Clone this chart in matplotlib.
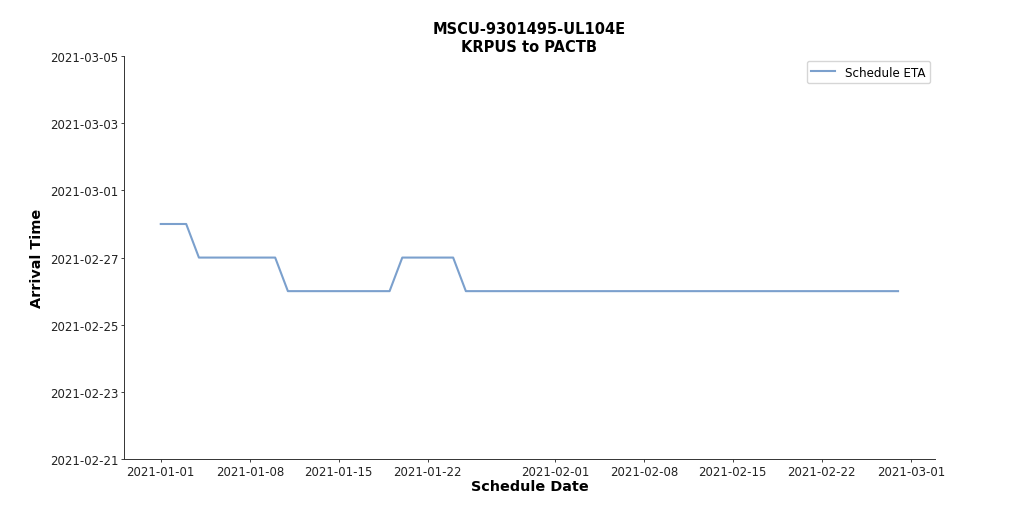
import pandas as pd
import matplotlib
matplotlib.use('Agg')
import matplotlib.dates as mdates
import matplotlib.pyplot as plt

# Schedule dates (one per day) and the ETA that was published that day
schedule_dates = pd.date_range('2021-01-01', '2021-02-28', freq='D')
schedule_eta = (['2021-02-28'] * 3 + ['2021-02-27'] * 7 + ['2021-02-26'] * 9 +
                ['2021-02-27'] * 5 + ['2021-02-26'] * 35)
y_ticks = ['2021-02-21', '2021-02-23', '2021-02-25', '2021-02-27',
           '2021-03-01', '2021-03-03', '2021-03-05']

df = pd.DataFrame({'Schedule_Date': schedule_dates,
                   'ETA': pd.to_datetime(schedule_eta)})

fig, ax = plt.subplots(figsize=(10.24, 5.1), dpi=100)
fig.subplots_adjust(left=0.121, right=0.913, bottom=0.098, top=0.888)

ax.plot(df['Schedule_Date'], df['ETA'], color='#7ba0cd', linewidth=1.5, label='Schedule ETA')

ax.set_ylim(pd.Timestamp(y_ticks[0]), pd.Timestamp(y_ticks[-1]))
ax.set_yticks(pd.to_datetime(y_ticks))
ax.yaxis.set_major_formatter(mdates.DateFormatter('%Y-%m-%d'))
ax.xaxis.set_major_locator(mdates.DayLocator(bymonthday=[1, 8, 15, 22]))
ax.xaxis.set_major_formatter(mdates.DateFormatter('%Y-%m-%d'))

ax.spines['top'].set_visible(False)
ax.spines['right'].set_visible(False)
for s in ['left', 'bottom']:
    ax.spines[s].set_linewidth(0.7)
    ax.spines[s].set_color('#333333')
ax.tick_params(labelsize=8.5, length=2, width=0.6, pad=2, colors='#222222')

ax.set_title('MSCU-9301495-UL104E\nKRPUS to PACTB', fontsize=10.5, fontweight='bold',
             linespacing=1.25, pad=4)
ax.set_xlabel('Schedule Date', fontsize=10.4, fontweight='bold', labelpad=1)
ax.set_ylabel('Arrival Time', fontsize=10.4, fontweight='bold', labelpad=4)

ax.legend(loc='upper right', fontsize=8.6, borderaxespad=0.4)

fig.savefig('out.png', dpi=100)
